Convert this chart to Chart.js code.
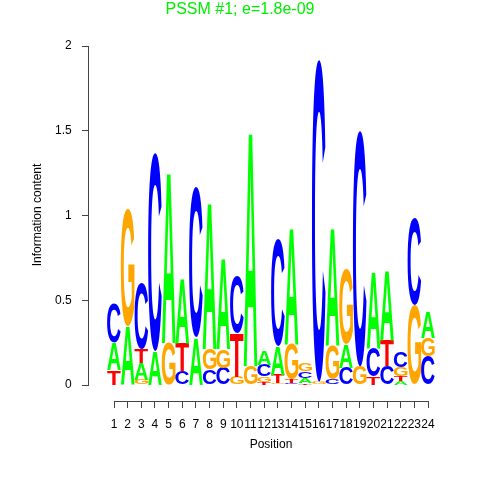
<!DOCTYPE html>
<html>
<head>
<meta charset="utf-8">
<script src="https://cdn.jsdelivr.net/npm/chart.js@4.4.0/dist/chart.umd.min.js"></script>
<style>
  body { margin: 0; background: #fff; }
</style>
</head>
<body>
<canvas id="logo" width="480" height="480"></canvas>
<script>
// positions along the motif
var positions = [1, 2, 3, 4, 5, 6, 7, 8, 9, 10, 11, 12, 13, 14, 15, 16, 17, 18, 19, 20, 21, 22, 23, 24];

// information content (bits) carried by each base at each position
var heightA = [0.16, 0.35, 0.10, 0.20, 1.01, 0.38, 0.28, 0.87, 0.54, 0, 1.39, 0.08, 0.17, 0.69, 0.03, 0, 0.70, 0.14, 0, 0.45, 0.41, 0.025, 0, 0.15];
var heightC = [0.23, 0, 0.39, 1.17, 0, 0.08, 0.89, 0.09, 0.10, 0.33, 0, 0.07, 0.63, 0.01, 0.04, 1.90, 0.03, 0.10, 1.39, 0.17, 0.11, 0.09, 0.51, 0.17];
var heightG = [0, 0.69, 0.03, 0, 0.25, 0, 0, 0.12, 0.11, 0.05, 0.11, 0.03, 0.01, 0.21, 0.045, 0.02, 0.20, 0.44, 0.11, 0, 0, 0.05, 0.47, 0.11];
var heightT = [0.09, 0, 0.08, 0, 0, 0.17, 0, 0, 0, 0.26, 0, 0.02, 0.05, 0.02, 0.01, 0, 0, 0, 0, 0.05, 0.15, 0.03, 0, 0];

// stacking order of the letters, bottom to top
var stackOrder = ['TAC', 'AG', 'GATC', 'AC', 'GA', 'CTA', 'AC', 'CGA', 'CGA', 'GTC', 'GA', 'TGCA',
                  'GTAC', 'CTGA', 'TACG', 'GC', 'CGA', 'CAG', 'GC', 'TCA', 'CTA', 'ATGC', 'GC', 'CGA'];

var yTicks = [0, 0.5, 1, 1.5, 2];

var heights = { A: heightA, C: heightC, G: heightG, T: heightT };
var baseColors = { A: '#00ff00', C: '#0000ff', G: '#ffa500', T: '#ff0000' };
var FONT = '"Liberation Sans", Arial, sans-serif';

// one stacked dataset per layer of the logo
var datasets = [];
for (var k = 0; k < 4; k++) {
  var vals = [], letters = [];
  for (var i = 0; i < positions.length; i++) {
    var ch = stackOrder[i].charAt(k);
    letters.push(ch || null);
    vals.push({ x: positions[i], y: ch ? heights[ch][i] : 0 });
  }
  datasets.push({
    label: 'layer' + k,
    data: vals,
    letters: letters,
    backgroundColor: 'rgba(0,0,0,0)',
    borderWidth: 0,
    barPercentage: 1,
    categoryPercentage: 1,
    clip: false
  });
}

function drawGlyph(ctx, ch, x, y, w, h, color) {
  ctx.save();
  ctx.font = 'bold 100px ' + FONT;
  var m = ctx.measureText(ch);
  var gw = m.actualBoundingBoxLeft + m.actualBoundingBoxRight;
  var gh = m.actualBoundingBoxAscent + m.actualBoundingBoxDescent;
  ctx.translate(x, y);
  ctx.scale(w / gw, h / gh);
  ctx.fillStyle = color;
  ctx.textBaseline = 'alphabetic';
  ctx.textAlign = 'left';
  ctx.fillText(ch, m.actualBoundingBoxLeft, m.actualBoundingBoxAscent);
  ctx.restore();
}

var logoLetters = {
  id: 'logoLetters',
  afterDatasetsDraw: function (chart) {
    var ctx = chart.ctx;
    chart.data.datasets.forEach(function (ds, di) {
      chart.getDatasetMeta(di).data.forEach(function (bar, i) {
        var ch = ds.letters[i];
        if (!ch) return;
        var p = bar.getProps(['x', 'y', 'base', 'width'], true);
        var h = p.base - p.y;
        if (h < 0.4) return;
        drawGlyph(ctx, ch, p.x - p.width / 2, p.y, p.width, h, baseColors[ch]);
      });
    });
  },
  afterDraw: function (chart) {
    var ctx = chart.ctx;
    ctx.save();
    ctx.textAlign = 'center';
    ctx.textBaseline = 'middle';
    ctx.fillStyle = '#00ee00';
    ctx.font = '16px ' + FONT;
    ctx.fillText('PSSM #1; e=1.8e-09', 240, 10);
    ctx.fillStyle = '#000';
    ctx.font = '12px ' + FONT;
    ctx.fillText('Position', 271, 445);
    ctx.translate(38, 215);
    ctx.rotate(-Math.PI / 2);
    ctx.fillText('Information content', 0, 0);
    ctx.restore();
  }
};

var tickFont = { family: FONT, size: 12 };

new Chart(document.getElementById('logo').getContext('2d'), {
  type: 'bar',
  data: { datasets: datasets },
  plugins: [logoLetters],
  options: {
    responsive: false,
    animation: false,
    layout: { padding: { left: 114, right: 52, top: 46, bottom: 95 } },
    plugins: {
      legend: { display: false },
      tooltip: { enabled: false },
      title: { display: false }
    },
    scales: {
      x: {
        type: 'linear',
        stacked: true,
        offset: false,
        min: 1,
        max: 24,
        position: { y: -0.1 },
        grid: { drawOnChartArea: false, tickLength: 6, color: '#444', offset: false },
        border: { color: '#444', width: 1 },
        ticks: { stepSize: 1, autoSkip: false, maxRotation: 0, padding: 10, color: '#000', font: tickFont }
      },
      y: {
        type: 'linear',
        stacked: true,
        min: 0,
        max: 2,
        position: { x: -0.9 },
        afterBuildTicks: function (scale) {
          scale.ticks = yTicks.map(function (v) { return { value: v }; });
        },
        grid: { drawOnChartArea: false, tickLength: 6, color: '#444' },
        border: { color: '#444', width: 1 },
        ticks: { display: false }
      },
      // tick labels of the y axis, set a little to the left of the axis line
      yLabels: {
        type: 'linear',
        axis: 'y',
        min: 0,
        max: 2,
        position: { x: -2.1 },
        afterBuildTicks: function (scale) {
          scale.ticks = yTicks.map(function (v) { return { value: v }; });
        },
        grid: { display: false, drawTicks: false },
        border: { display: false },
        ticks: {
          color: '#000',
          font: tickFont,
          callback: function (v) { return String(v); }
        }
      }
    }
  }
});
</script>
</body>
</html>
